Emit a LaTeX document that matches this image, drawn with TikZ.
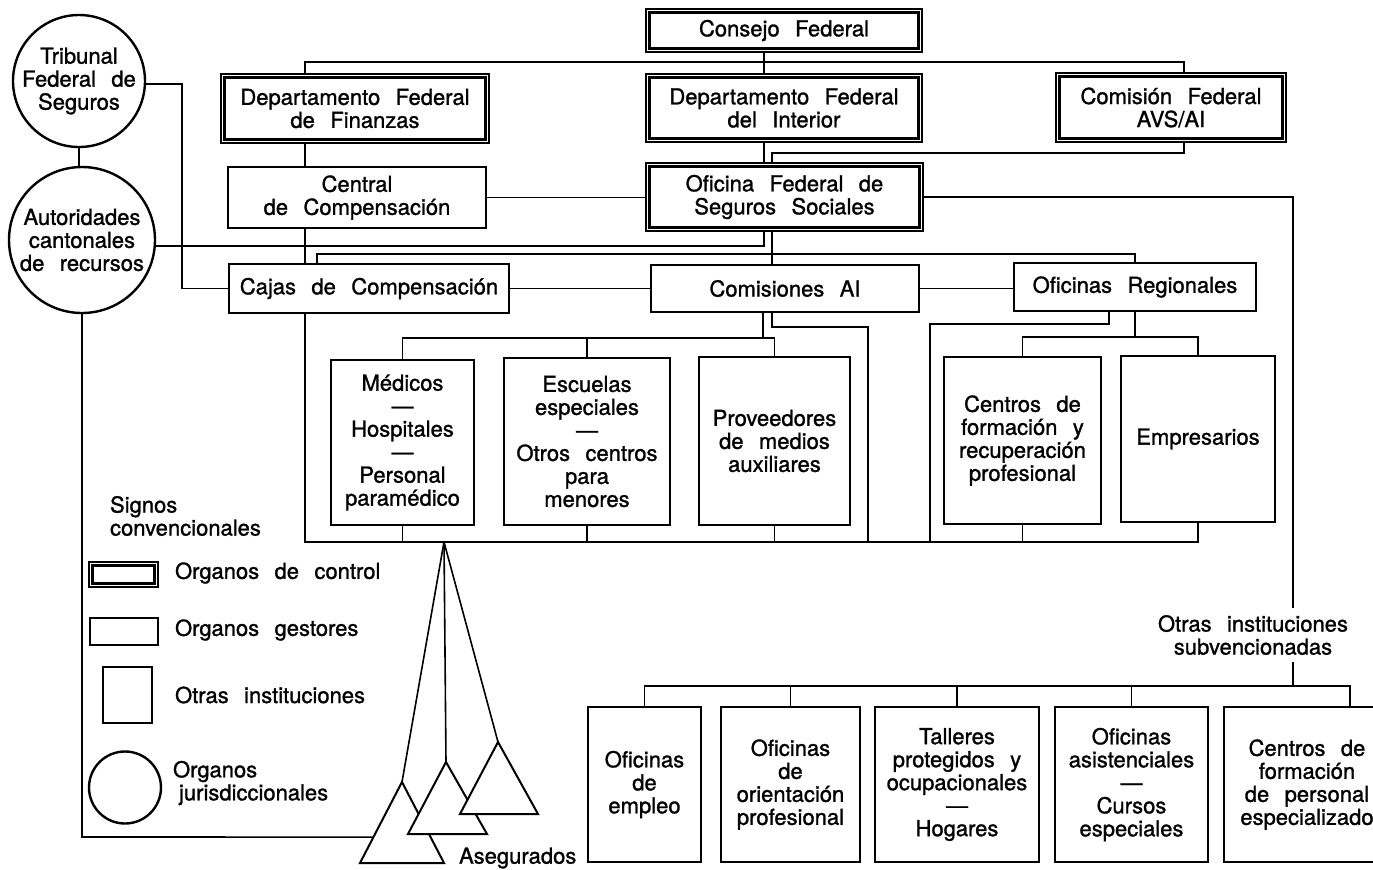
\documentclass[tikz,border=0pt]{standalone}
\usepackage{fontspec}
\setmainfont{TeX Gyre Heros}
\newfontfamily\orgface{TeX Gyre Heros}[FakeBold=1.2]
\usetikzlibrary{calc}
\protected\def\orgfont{\orgface\fontsize{11}{11.5}\selectfont\spaceskip=0.7em plus 0.2em\relax}

\begin{document}
\begin{tikzpicture}[x=0.5pt,y=-0.5pt,
	every node/.style={font=\orgfont,align=center},
	control/.style={draw,line width=0.7pt,inner sep=2pt},
	inner/.style={line width=1.6pt},
	gestor/.style={draw,line width=1.3pt,inner sep=2pt},
	otra/.style={draw,line width=1.4pt,inner sep=2pt},
	juris/.style={draw,circle,line width=1.2pt,inner sep=0pt},
	link/.style={line width=0.8pt},
	pueblo/.style={draw,fill=white,line width=1pt}]
	
	\fill[white] (0,0) rectangle (1373,869);
	\useasboundingbox (0,0) rectangle (1373,869);
	
	% organos de control
	\node[control,minimum width=138pt,minimum height=21.5pt] (cf) at (784,30.5) {Consejo Federal};
	\node[control,minimum width=134pt,minimum height=34.5pt] (dff) at (355,108.5) {Departamento Federal\\de Finanzas};
	\node[control,minimum width=138pt,minimum height=34pt] (dfi) at (784,108) {Departamento Federal\\del Interior};
	\node[control,minimum width=115pt,minimum height=34.5pt] (cfa) at (1171,107.5) {Comisión Federal\\AVS/AI};
	\node[control,minimum width=138.5pt,minimum height=34pt] (ofss) at (784.5,197) {Oficina Federal de\\Seguros Sociales};
	
	% organos gestores
	\node[gestor,minimum width=129pt,minimum height=30.5pt] (cc) at (357,197.5) {Central\\de Compensación};
	\node[gestor,minimum width=140pt,minimum height=24.5pt] (cajas) at (369,288.5) {Cajas de Compensación};
	\node[gestor,minimum width=134pt,minimum height=23.5pt] (cai) at (785,288.5) {Comisiones AI};
	\node[gestor,minimum width=121pt,minimum height=24pt] (ore) at (1135,287) {Oficinas Regionales};
	
	% otras instituciones
	\node[otra,minimum width=71.5pt,minimum height=82.5pt] (med) at (402.5,442.5) {Médicos\\—\\Hospitales\\—\\Personal\\paramédico};
	\node[otra,minimum width=83pt,minimum height=83.5pt] (esc) at (587,441.5) {Escuelas\\especiales\\—\\Otros centros\\para\\menores};
	\node[otra,minimum width=75.5pt,minimum height=84pt] (prov) at (774.5,441) {Proveedores\\de medios\\auxiliares};
	\node[otra,minimum width=78.5pt,minimum height=83.5pt] (cfr) at (1022.5,440.5) {Centros de\\formación y\\recuperación\\profesional};
	\node[otra,minimum width=77pt,minimum height=83pt] (emp) at (1198,439) {Empresarios};
	
	\node[otra,minimum width=56.5pt,minimum height=77.5pt] (of1) at (644.5,784.5) {Oficinas\\de\\empleo};
	\node[otra,minimum width=69.5pt,minimum height=77.5pt] (of2) at (790.5,784.5) {Oficinas\\de\\orientación\\profesional};
	\node[otra,minimum width=82pt,minimum height=77.5pt] (tal) at (957,784.5) {Talleres\\protegidos y\\ocupacionales\\—\\Hogares};
	\node[otra,minimum width=76.5pt,minimum height=77.5pt] (oas) at (1131.5,784.5) {Oficinas\\asistenciales\\—\\Cursos\\especiales};
	\node[otra,minimum width=83pt,minimum height=77.5pt] (cfp) at (1307,784.5) {Centros de\\formación\\de personal\\especializado};
	
	\node (otras) at (1253,635) {Otras instituciones\\subvencionadas};
	
	% organos jurisdiccionales
	\node[juris,minimum size=66pt] (tfs) at (79,81) {Tribunal\\Federal de\\Seguros};
	\node[juris,minimum size=73pt] (acr) at (82,240) {Autoridades\\cantonales\\de recursos};
	
	% signos convencionales
	\node[anchor=west,align=left] (signos) at (103,516) {Signos\\convencionales};
	\node[control,minimum width=34.5pt,minimum height=12.5pt] (lgc) at (123.5,574.5) {};
	\node[gestor,minimum width=34pt,minimum height=13.5pt] (lgg) at (124,631.5) {};
	\node[otra,minimum width=24.5pt,minimum height=28pt] (lgo) at (127.5,695) {};
	\node[juris,minimum size=36pt] (lgj) at (125,787.5) {};
	\node[anchor=west] (tlgc) at (168,573) {Organos de control};
	\node[anchor=west] (tlgg) at (168,630) {Organos gestores};
	\node[anchor=west] (tlgo) at (168,695) {Otras instituciones};
	\node[anchor=west,align=left] (tlgj) at (166,783) {Organos\\\hspace{3pt}jurisdiccionales};
	
	\foreach \n in {cf,dff,dfi,cfa,ofss,lgc}
	\draw[inner] ($(\n.south west)+(2.2pt,2.2pt)$) rectangle ($(\n.north east)-(2.2pt,2.2pt)$);
	
	% columnas y niveles de las lineas
	\coordinate (xa) at (305,0);
	\coordinate (xb) at (764,0);
	\coordinate (xc) at (772,0);
	\coordinate (xd) at (1184,0);
	\coordinate (xe) at (1293,0);
	\coordinate (xf) at (317,0);
	\coordinate (xh) at (763,0);
	\coordinate (xi) at (868,0);
	\coordinate (xj) at (1109,0);
	\coordinate (xk) at (930,0);
	\coordinate (xm) at (182,0);
	\coordinate (xn) at (444,0);
	\coordinate (ytop) at (0,62);
	\coordinate (ytr) at (0,84);
	\coordinate (ycf) at (0,153);
	\coordinate (yau) at (0,246);
	\coordinate (yof) at (0,254);
	\coordinate (yc2) at (0,327);
	\coordinate (yo2) at (0,324);
	\coordinate (yreg) at (0,337);
	\coordinate (ycom) at (0,338);
	\coordinate (ybot) at (0,542);
	\coordinate (yotr) at (0,686);
	\coordinate (yleg) at (0,837);
	
	\draw[link] (cf.south -| xb) -- (dfi.north -| xb);
	\draw[link] (dff.north -| xa) -- (xa |- ytop) -- (xd |- ytop) -- (cfa.north -| xd);
	\draw[link] (dff.south -| xa) -- (cc.north -| xa);
	\draw[link] (cc.south -| xa) -- (cajas.north -| xa);
	\draw[link] (dfi.south -| xb) -- (ofss.north -| xb);
	\draw[link] (cfa.south -| xd) -- (xd |- ycf) -- (xc |- ycf) -- (ofss.north -| xc);
	\draw[link] (cc.east) -- (cc.east -| ofss.west);
	\draw[link] (ofss.east) -| (otras.north -| xe);
	\draw[link] (otras.south -| xe) -- (xe |- yotr);
	
	\draw[link] (acr.east |- yau) -- (xb |- yau) -- (ofss.south -| xb);
	\draw[link] (ofss.south -| xc) -- (cai.north -| xc);
	\draw[link] (cajas.north -| xf) -- (xf |- yof) -- (ore.north |- yof) -- (ore.north);
	\draw[link] (tfs.east |- ytr) -- (xm |- ytr) -- (xm |- cajas.west) -- (cajas.west);
	\draw[link] (tfs.south) -- (tfs.south |- acr.north);
	\draw[link] (cajas.east) -- (cajas.east -| cai.west);
	\draw[link] (cai.east) -- (cai.east -| ore.west);
	
	\draw[link] (cai.south -| xh) -- (xh |- ycom);
	\draw[link] (med.north) -- (med.north |- ycom) -- (prov.north |- ycom) -- (prov.north);
	\draw[link] (esc.north) -- (esc.north |- ycom);
	\draw[link] (cai.south -| xc) -- (xc |- yc2) -- (xi |- yc2) -- (xi |- ybot);
	\draw[link] (ore.south -| xj) -- (xj |- yo2) -- (xk |- yo2) -- (xk |- ybot);
	\draw[link] (ore.south) -- (ore.south |- yreg);
	\draw[link] (cfr.north) -- (cfr.north |- yreg) -- (emp.north |- yreg) -- (emp.north);
	
	\draw[link] (cajas.south -| xa) -- (xa |- ybot) -- (emp.south |- ybot) -- (emp.south);
	\foreach \n in {med,esc,prov,cfr}
	\draw[link] (\n.south) -- (\n.south |- ybot);
	
	\draw[link] (of1.north) -- (of1.north |- yotr) -- ([xshift=21.5pt]cfp.north |- yotr) -- ([xshift=21.5pt]cfp.north);
	\foreach \n in {of2,tal,oas}
	\draw[link] (\n.north) -- (\n.north |- yotr);
	
	% asegurados
	\coordinate (apex) at (xn |- ybot);
	\coordinate (t1) at (402,782); \coordinate (tl1) at (360,863); \coordinate (tr1) at (444,863);
	\coordinate (t2) at (446,762); \coordinate (tl2) at (408,834); \coordinate (tr2) at (487,834);
	\coordinate (t3) at (498,742); \coordinate (tl3) at (460,814); \coordinate (tr3) at (538,814);
	\foreach \i in {1,2,3}
	\draw[link] (apex) -- (t\i);
	\foreach \i in {1,2,3}
	\draw[pueblo] (t\i) -- (tl\i) -- (tr\i) -- cycle;
	\draw[link] (acr.south) -- (acr.south |- yleg) -- ($(t1)!0.68!(tl1)$);
	\node[anchor=west] (aseg) at (452,858) {Asegurados};
	
\end{tikzpicture}
\end{document}
